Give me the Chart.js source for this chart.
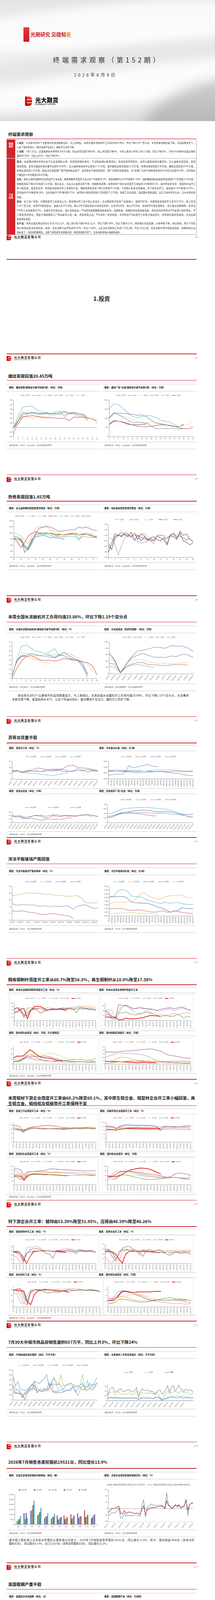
<!DOCTYPE html>
<html><head><meta charset="utf-8">
<script src="https://cdn.jsdelivr.net/npm/chart.js@4.4.0/dist/chart.umd.min.js"></script>
<style>
html,body{margin:0;padding:0;background:#fff;}
#root{position:relative;width:550px;height:4952px;overflow:hidden;background:#fff;font-family:"Noto Sans CJK SC","Noto Sans",sans-serif;color:#222;}
.a{position:absolute;}
.ttl{position:absolute;left:21px;font-size:10.6px;font-weight:700;color:#1b1b1b;white-space:nowrap;line-height:14px;}
.red{position:absolute;left:17px;width:486px;height:1.6px;background:#c8282e;}
.gl{position:absolute;height:1px;background:#d5c9c9;}
.cap{position:absolute;font-size:5.8px;font-weight:700;color:#222;white-space:nowrap;line-height:8px;}
.src{position:absolute;font-size:5.4px;font-style:italic;color:#666;white-space:nowrap;line-height:8px;}
.jl{position:absolute;color:#333;white-space:normal;overflow:visible;}
.pn{position:absolute;right:44px;font-size:5px;color:#777;line-height:7px;}
.sec{position:absolute;left:0;width:520px;text-align:center;font-size:14.5px;font-weight:700;color:#222;line-height:18px;}
</style></head>
<body><div id="root"></div>
<script>
// ---------------- tick labels / categories ----------------
const wk19 = [1,4,7,10,13,16,19,22,25,28,31,34,37,40,43,46,49,52,55];
const wk27ticks = [1,5,9,13,17,21,25,29,33,37,41,45,49,53];
const monthNum = ['01','02','03','04','05','06','07','08','09','10','11','12'];
const cement16 = ['1月4日','1月28日','2月21日','3月15日','4月10日','5月4日','5月28日','6月21日','7月15日','8月8日','9月1日','9月25日','10月19日','11月12日','12月6日','12月30日'];
const dates18 = ['1月1日','1月22日','2月12日','3月5日','3月26日','4月16日','5月7日','5月28日','6月18日','7月9日','7月30日','8月20日','9月10日','10月1日','10月22日','11月12日','12月3日','12月24日'];
const dates30 = ['1月3日','1月15日','1月27日','2月8日','2月20日','3月4日','3月16日','3月28日','4月9日','4月21日','5月3日','5月15日','5月27日','6月8日','6月20日','7月2日','7月14日','7月26日','8月7日','8月19日','8月31日','9月12日','9月24日','10月6日','10月18日','10月30日','11月11日','11月23日','12月5日','12月17日'];
const dates24 = ['1月1日','1月16日','1月31日','2月15日','3月2日','3月17日','4月1日','4月16日','5月1日','5月16日','5月31日','6月15日','6月30日','7月15日','7月30日','8月14日','8月29日','9月13日','9月28日','10月13日','10月28日','11月12日','11月27日','12月12日'];
const glass11 = ['1月3日','1月31日','3月1日','3月29日','4月26日','5月30日','6月27日','7月25日','8月29日','10月18日','11月29日'];
const dates26 = ['1月1日','1月15日','1月29日','2月12日','2月26日','3月12日','3月26日','4月9日','4月23日','5月7日','5月21日','6月4日','6月18日','7月2日','7月16日','7月30日','8月13日','8月27日','9月10日','9月24日','10月8日','10月22日','11月5日','11月19日','12月3日','12月17日'];
const house15 = ['2025-05','2025-06','2025-07','2025-08','2025-09','2025-10','2025-11','2025-12','2026-01','2026-02','2026-03','2026-04','2026-05','2026-06','2026-07'];
const excMonths = ['1月','2月','3月','4月','5月','6月','7月','8月','9月','10月','11月','12月'];
const yoy13 = ['2022-07','2022-11','2023-03','2023-07','2023-11','2024-03','2024-07','2024-11','2025-03','2025-07','2025-11','2026-03','2026-07'];
const eai15 = ['2022-09','2022-12','2023-03','2023-06','2023-09','2023-12','2024-03','2024-06','2024-09','2024-12','2025-03','2025-06','2025-09','2025-12','2026-03'];
const steel20 = ['1月2日','1月20日','2月7日','2月25日','3月15日','4月2日','4月20日','5月8日','5月26日','6月13日','7月1日','7月19日','8月6日','8月24日','9月11日','9月29日','10月17日','11月4日','11月22日','12月10日'];
const oil10 = ['1月2日','2月13日','3月27日','5月8日','6月10日','7月15日','8月22日','10月3日','11月14日','12月26日'];

// ---------------- series values ----------------
// p4 螺纹表需
const p4a_2025=[0,80,230,250,260,250,230,225,220,205,200,210,150,230,225,230,205,185,145];
const p4a_2024=[-150,150,280,300,320,300,290,310,300,310,300,340,300,300,280,270,200];
const p4a_2023=[0,200,350,320,320,300,300,290,270,270,290,280,300,300,250,240,220,220,80];
const p4a_2022=[0,150,320,310,330,320,310,320,300,300,330,360,320,330,310,290,150];
const p4a_2021=[0,250,450,460,470,390,340,330,310,340,360,240,310,320,310,290,240];
const p4a_2026=[0,130,240,260,200,240,220,200,190];
// p4 螺纹库存
const p4b_2025=[650,850,850,800,720,650,570,550,540,560,620,650,640,620,560,490,440,440,520];
const p4b_2024=[1000,1300,1200,1050,900,780,780,780,750,600,430,450,440,450,450,420,450];
const p4b_2023=[1000,1280,1200,1100,1050,950,850,750,720,800,780,730,700,620,570,560,620,680,900];
const p4b_2022=[1050,1310,1280,1280,1250,1220,1170,1200,1100,900,750,700,650,600,550,550,700];
const p4b_2021=[1500,1820,1750,1550,1300,1100,1050,1100,1150,1150,1050,900,850,800,650,550,650];
const p4b_2026=[700,880,850,780,680,650,650,670,690];
// p5 五大品种
const p5a_2020=[820,800,760,560,460,700,1000,1150,1200,1210,1200,1150,1080,1050,1080,1100,1100,1120,1200,1160,1200,1150,1100,1080];
const p5a_2021=[980,960,900,760,650,900,1150,1220,1180,1250,1100,1080,1000,950,950,980,1000,1020,950,980,980,990,950,880];
const p5a_2022=[880,850,800,520,420,750,980,1000,950,1000,1000,950,900,880,900,920,950,950,920,980,950,920,880,850];
const p5a_2023=[820,700,520,700,900,1000,1040,1000,1000,990,1000,980,950,950,940,960,980,980,960,950,950,930,900,860];
const p5a_2024=[840,800,720,500,460,650,920,950,960,950,940,900,880,880,870,880,890,880,820,880,880,860,850,840];
const p5a_2025=[900,870,820,600,500,780,950,980,960,1020,980,950,930,940,950,960,960,950,750,980,1000,960,880,860];
const p5a_2026=[820,800,780,360,540,800,880,900,920,900,850,860,840,830,790];
// p5 热卷
const p5b_2026=[310,308,290,248,282,310,318,312,305,298,292,295,300,305,287];
const p5b_2025=[290,270,310,320,330,320,322,315,320,320,315,305,310,298,305,320,322,318,290,322,330,315,318,310,305,310];
const p5b_2024=[300,265,300,320,338,325,320,318,330,320,325,328,318,300,290,320,318,320,315,320,318,322,316,310,300,315];
const p5b_2023=[258,290,325,320,318,325,315,332,302,320,300,315,305,308,300,318,310,305,285,320,325,310,328,300,295,285,295];
const p5b_2022=[280,270,315,322,315,330,325,315,330,305,325,320,300,312,315,305,300,310,310,318,315,305,335,320,325,305,298];
// p6 水泥
const p6a_2025=[0,22,38,48,50,46,40,40,40,38,40,44,42,40,40,36,35,28,8];
const p6a_2024=[5,40,50,50,55,52,50,48,47,46,53,50,45,42,38,25,3];
const p6a_2023=[10,35,55,55,52,50,50,52,50,52,52,55,55,50,45,38,32,16];
const p6a_2022=[5,38,48,50,55,52,50,52,52,45,50,58,50,45,40,30,8];
const p6a_2021=[5,40,70,74,67,60,58,55,58,66,50,50,45,40,40,33,10];
const p6a_2026=[5,38,50,48,45,42,38,35,34];
const p6b_2023=[650,420,40,300,500,580,640,580,520,520,510,560,540,610,600,510];
const p6b_2022=[650,400,30,300,530,720,740,780,830,830,800,880,870,870,820,700];
const p6b_2024=[500,380,40,280,420,450,430,380,340,330,320,320,330,340,350];
const p6b_2025=[340,300,40,230,300,350,350,290,280,270,250,280,290,290,270];
const p6b_2026=[240,200,30,200,270,290,270,230,200];
// p7 沥青
const p7a_2023=[24,28,23,30,32,38,36,32,34,34,35,45,48,40,38,37,33,30];
const p7a_2024=[28,30,22,28,28,28,26,28,30,32,27,26,28,29,30,33,30,28];
const p7a_2025=[25,28,25,25,28,27,27,33,28,30,33,28,26,36,30,25,29,27];
const p7a_2026=[30,29,24,21,20,18,16,14,12,15,19,22];
const p7b_2023=[3950,3980,4000,4050,4000,4000,3900,3950,4000,3950,3900,3900,3850,3850,3900,3950,4000,4050,4050,4050,4050,4050,4050,4000,4000,3800,3750,3700,3750,3800];
const p7b_2024=[3800,3820,3850,3850,3850,3850,3850,3850,3800,3800,3800,3850,3850,3850,3800,3750,3750,3780,3780,3780,3750,3750,3800,3800,3850,3850,3850,3850,3850,3850];
const p7b_2025=[3900,3900,3850,3850,3800,3800,3750,3700,3650,3550,3550,3600,3600,3650,3700,3700,3750,3750,3750,3700,3650,3550,3500,3450,3450,3300,3200,3150,3100,3080];
const p7b_2026=[3150,3200,3250,3280,3300,3300,3900,4800,4500,4450,4600,4750,4800,4950,4900,4700,4650,4600];
const p7c_2024=[40,38,40,35,22,33,42,42,35,27,30,40,37,35,40,38,37,35,42,40,46,45,40,37];
const p7c_2025=[40,32,35,22,34,35,41,38,44,35,42,44,45,40,41,42,42,40,40,48,45,37,40,35];
const p7c_2026=[40,32,35,28,24,23,23,18,13,20,19,19,20,18,22,29,27];
const p7d_2023=[110,120,150,185,215,228,240,262,272,276,272,268,255,240,238,240,238,232,215,200,185,180,175,190];
const p7d_2024=[190,205,235,270,300,315,320,325,332,335,332,330,325,318,308,300,290,270,245,215,180,150,120,110];
const p7d_2025=[135,145,170,200,220,225,228,228,225,220,215,210,205,205,205,205,200,190,180,175,165,150,135,130];
const p7d_2026=[135,145,168,190,200,200,206,202,198,190,175,162,152,145];
// p8 玻璃
const p8a_2023=[];
const p8a_2024=[83.3,83.7,84.2,84.8,85.3,85.0,85.0,84.8,84.3,84.3,83.8,83.6,83.3,82.9,82.8,83.0,83.2,81.5,78.3,77.8,77.8,78.3];
const p8a_2025=[77.4,76.2,76.4,76.6,76.2,76.4,75.8,75.4,75.8,75.0,75.6,75.4,75.2,75.6,75.2,73.0,75.5,76.0,76.5,75.0,73.8,74.0];
const p8a_2026=[72.0,71.5,71.9,71.8,70.9,70.8,70.2,69.4,69.3,69.7,70.0,69.5,69.0,68.4,68.3,66.2];
const p8b_2022=[2080,2060,2150,2350,2440,2420,2380,2200,2060,2050,2050,2030,1960,1880,1820,1780,1750,1700,1670,1750,1720,1700,1700,1730,1720,1680,1650,1630,1620,1630];
const p8b_2023=[1670,1710,1750,1760,1750,1740,1750,1780,1820,1900,2050,2250,2270,2150,2050,2000,1950,1910,1940,2000,2080,2090,2110,2120,2140,2120,2060,1980,2010,2020];
const p8b_2024=[2030,2035,2040,2050,2055,2060,1990,1850,1740,1720,1710,1700,1690,1690,1650,1600,1530,1470,1440,1380,1300,1200,1250,1270,1300,1450,1420,1410,1400,1400];
const p8b_2025=[1380,1390,1400,1410,1410,1380,1350,1310,1310,1320,1330,1320,1290,1250,1220,1210,1210,1230,1280,1260,1200,1210,1240,1280,1220,1210,1170,1160,1150,1130];
const p8b_2026=[1120,1130,1140,1150,1160,1165,1170,1180,1180,1165,1150,1150,1140,1125,1115,1110,1105,1100];
// p9 铜
const p9a_2022=[65,75,55,35,30,62,68,62,42,52,60,65,68,62,70,65,65,68,62,72,75,70,72,65,68,60];
const p9a_2023=[70,72,48,25,50,62,65,68,70,65,75,70,72,68,70,76,70,72,75,80,85,75,70,72,68,62];
const p9a_2024=[62,75,72,30,40,58,62,72,70,60,55,62,58,62,70,68,72,75,70,62,70,80,82,78,80,70];
const p9a_2025=[62,75,60,15,72,72,70,70,70,65,62,62,65,66,68,70,68,68,70,45,68,65,68,62,62,60];
const p9a_2026=[48,50,66,68,12,55,78,82,80,72,60,62,65,64,66,62,58];
const p9b_2022=[38,28,5,15,65,60,62,55,50,48,52,50,47,45,45,40,45,48,50,52,48,50,55,50,45,42];
const p9b_2023=[40,35,18,8,30,55,62,55,45,50,52,48,50,48,45,40,38,42,45,48,40,45,48,52,45,40];
const p9b_2024=[38,45,40,10,45,55,60,50,40,30,25,30,40,35,28,22,25,20,18,22,30,25,28,30,32,28];
const p9b_2025=[22,25,18,5,32,30,35,28,25,22,28,30,35,30,28,22,15,20,22,15,18,25,20,10,18,13];
const p9b_2026=[15,14,14,14,3,4,10,7,7,8,10,12,16,20,20,19,18];
const p9c_2021=[12,10,12,20,28,30,30,30,32,33,32,30,25,22,18,15,12,12,10,10,9,10,9,8,9,8];
const p9c_2022=[20,15,18,20,22,23,18,15,14,14,12,12,10,10,9,8,8,8,7,9,10,9,8,7,8,8];
const p9c_2023=[10,10,15,25,30,28,22,20,18,16,15,12,12,10,9,8,8,9,10,10,10,9,9,8,7,9];
const p9c_2024=[8,8,12,20,30,38,40,40,40,40,42,45,42,38,35,30,25,18,15,20,20,18,15,14,12,10];
const p9c_2025=[10,11,14,22,35,38,35,28,20,15,13,12,12,12,14,14,15,17,18,20,19,17,16,16,17,23];
const p9c_2026=[25,32,32,33,45,58,50,38,30,26,25,24,20,16,14,12];
const p9d_2021=[35,35,35,34,36,37,38,38,39,40,41,42,43,44,43,40,38,34,28,25,24,22,20,18,17,18];
const p9d_2022=[19,23,26,30,32,33,30,30,30,29,28,27,24,20,15,10,6,5,4,4,3,3,3,3,3,5];
const p9d_2023=[3,3,5,15,18,20,19,17,14,12,10,9,8,8,7,7,6,6,5,5,5,4,3,2,2,2];
const p9d_2024=[2,3,5,6,6,6,7,8,8,9,9,10,10,10,10,10,9,8,7,6,5,5,5,4,4,3];
const p9d_2025=[3,3,4,5,6,7,8,9,9,8,8,8,8,7,7,7,7,7,8,8,8,8,8,8,8,8];
const p9d_2026=[8,8,8,7,7,6,6,5,5,4,4,5,5,4,4,4];
// p10 铝
const p10a_2021=[77,76,72,48,62,68,70,72,74,75,77,76,75,73,70,68,67,65,66,66,65,65,66,64,63,62];
const p10a_2022=[68,66,60,42,58,66,68,68,66,58,60,63,64,65,63,64,64,65,66,66,66,67,68,68,68,68];
const p10a_2023=[62,60,58,52,58,62,63,64,63,63,62,62,61,61,62,62,63,63,63,63,64,64,65,65,65,64];
const p10a_2024=[60,62,58,55,58,61,62,63,63,63,63,63,62,62,62,62,62,62,62,63,62,62,63,62,62,60];
const p10a_2025=[60,58,52,50,56,60,62,62,62,62,62,61,61,60,60,60,59,60,61,62,61,61,62,62,61,60];
const p10a_2026=[61,60,58,56,58,62,63,63,63,63,63,62,62,62,61,60,60];
const p10b_2021=[82,82,80,70,78,85,86,86,85,85,85,85,84,84,84,78,60,80,80,80,78,80,80,82,84,84];
const p10b_2022=[80,80,78,68,82,88,90,90,89,88,88,88,86,86,82,80,80,82,82,80,80,80,80,80,80,80];
const p10b_2023=[75,76,74,72,75,76,76,77,77,77,76,76,76,75,75,74,74,75,75,76,76,76,76,76,75,72];
const p10b_2024=[72,72,70,68,70,72,73,74,74,74,74,74,74,74,73,72,72,73,74,75,74,74,74,74,72,68];
const p10b_2025=[66,66,64,62,66,68,68,68,67,66,66,65,65,65,64,64,64,66,67,68,68,67,66,66,65,63];
const p10b_2026=[65,64,63,62,66,68,70,71,71,71,71,70,70,70,70,70,69];
const p10c_2021=[88,86,82,50,70,72,72,74,75,76,80,87,86,85,83,82,82,80,79,78,78,76,75,75,76,75];
const p10c_2022=[75,70,60,38,62,70,72,72,73,72,70,68,68,68,68,68,67,66,66,66,66,65,64,63,62,61];
const p10c_2023=[55,58,55,35,55,60,62,64,64,64,66,66,66,66,65,64,63,62,60,58,57,56,56,55,54,53];
const p10c_2024=[52,55,50,30,48,58,60,60,60,60,58,56,56,55,54,52,52,51,50,50,51,52,52,50,49,47];
const p10c_2025=[45,40,28,35,50,55,56,56,55,55,55,55,54,53,52,50,50,50,50,51,52,53,53,52,52,52];
const p10c_2026=[48,48,45,24,45,55,58,57,56,55,55,55,54,53,52,50,49];
const p10d_2021=[78,76,80,100,115,118,120,118,112,108,104,100,96,92,88,84,80,70,65,70,90,100,102,98,90,80];
const p10d_2022=[75,72,85,100,110,115,120,115,110,100,95,90,85,80,75,72,70,65,62,64,65,60,55,50,48,45];
const p10d_2023=[60,80,110,120,118,115,110,105,98,90,85,80,75,70,65,62,60,58,58,60,62,60,58,55,50,45];
const p10d_2024=[50,48,45,60,78,85,88,85,82,80,78,75,72,70,68,66,62,60,60,62,64,62,58,52,48,45];
const p10d_2025=[50,48,48,65,85,85,82,75,68,62,55,50,46,45,47,50,52,55,58,62,65,62,60,58,58,66];
const p10d_2026=[65,68,70,75,85,100,118,130,136,142,145,143,140,132,120,105,95];
// p11 锌
const p11a_2022=[55,50,40,10,45,65,70,70,68,58,48,45,25,60,60,60,62,65,62,55,62,60,58,60,58,52];
const p11a_2023=[40,30,10,2,75,78,78,80,75,65,60,62,55,60,65,68,70,70,68,62,68,62,60,62,60,52];
const p11a_2024=[60,58,50,20,3,30,60,60,60,62,60,60,58,62,62,60,62,60,58,60,62,65,60,62,62,55];
const p11a_2025=[55,60,55,15,50,55,58,58,60,62,60,60,55,58,58,58,56,55,56,48,58,58,56,58,58,52];
const p11a_2026=[55,55,50,30,2,30,55,58,60,60,60,60,58,57,55,54,52];
const p11b_2022=[45,60,30,10,40,65,70,72,62,55,45,30,55,60,50,55,58,48,40,35,45,48,42,48,45,38];
const p11b_2023=[30,8,5,20,50,60,62,58,58,50,35,60,55,52,50,45,48,44,50,46,44,48,45,44,46,48];
const p11b_2024=[55,60,50,25,10,50,55,58,55,52,55,55,55,52,54,56,55,54,55,56,54,56,54,55,56,56];
const p11b_2025=[62,55,45,20,50,55,58,58,55,52,55,56,55,50,50,48,48,48,50,48,50,50,50,52,50,52];
const p11b_2026=[52,50,50,40,20,2,40,52,52,52,50,52,50,50,48,47,46];
const p11c_2022=[58,62,65,45,10,52,58,60,58,52,48,50,52,50,55,58,60,58,56,60,58,58,60,58,56,52];
const p11c_2023=[48,45,15,10,40,60,62,60,60,62,60,58,60,62,60,62,62,63,62,62,60,58,60,60,58,55];
const p11c_2024=[58,58,40,15,5,50,58,60,60,58,58,57,57,56,56,55,55,57,58,58,58,58,58,58,57,55];
const p11c_2025=[55,60,60,30,20,55,58,58,58,58,60,60,58,57,56,56,55,56,58,58,58,57,57,56,56,52];
const p11c_2026=[58,57,56,55,20,8,42,55,58,60,60,58,56,55,55,54,50];
const p11d_2021=[15,14,15,20,27,28,27,25,22,20,18,15,13,12,12,12,12,12,12,12,12,12,12,12,12,11];
const p11d_2022=[12,12,18,26,28,28,27,26,25,23,20,18,15,12,10,9,8,8,7,6,6,6,6,5,5,6];
const p11d_2023=[12,12,14,16,18,18,16,14,12,11,10,10,10,11,12,12,12,12,12,12,12,11,10,9,8,7];
const p11d_2024=[6,7,12,17,19,20,21,21,21,21,21,20,18,16,14,12,11,10,10,12,13,14,12,10,8,7];
const p11d_2025=[6,6,8,12,14,13,12,11,10,9,8,8,9,10,11,12,14,15,16,16,15,14,14,13,12,11];
const p11d_2026=[11,11,12,18,25,27,26,25,25,26,26,26,26,26,27,27,27];
// p12 地产
const p12a_2022=[170,190,200,140,100,110,130,170,200,230,250,200,240,230,200,190,300,450,380,300,500,290,300,290,350,280,260,290,300,510,180,250,300,250,280,330];
const p12a_2023=[470,280,370,220,200,190,210,250,300,370,350,330,390,420,510,290,310,320,300,330,280,210,300,320,330,310,280,270,300,330,250,270,330,300,310,340];
const p12a_2024=[290,230,210,170,60,130,150,230,210,380,140,190,180,200,230,240,360,430,330,190,200,180,170,200,180,280,200,90,200,300,240,390,230,290,350,450];
const p12a_2025=[130,150,140,120,40,150,180,260,320,210,180,200,180,220,200,340,200,150,180,160,140,160,200,190,220,260,150,230,270,200,220,190,230,200,250,340];
const p12a_2026=[280,130,130,140,120,10,160,200,230,300,150,190,170,180,180,230,340,160,140,150];
const p12b_sz=[7,13,12,10,12,11,10,10,11,9,10,10,11,10,11,11,10,5,10,11,12,11,11,10,11,7,12,13,14,8,1,6,8,10,12,13,14,12,11,13,13,12,10,12,12,11,10,9];
const p12b_bj=[20,35,36,38,24,33,40,28,27,28,25,29,32,26,25,33,41,12,32,35,30,32,32,30,35,28,32,35,26,13,2,20,30,38,45,30,35,40,38,30,38,40,30,34,38,28,26,31];
const p12b_cd=[20,45,53,56,37,36,47,51,42,36,42,45,47,36,38,44,55,12,40,50,42,43,45,39,40,38,25,35,45,43,27,35,45,63,30,55,65,40,48,66,50,46,38,49,44,44,45,34];
const p12b_su=[10,14,13,12,14,13,12,11,12,11,12,11,12,11,12,12,11,4,11,12,11,12,12,11,11,8,13,14,15,10,1,7,10,13,16,20,15,17,20,19,16,18,17,15,16,14,14,14];
// p13 挖掘机
const p13a_2022=[null,null,null,null,null,null,9200,9000,10500,11300,14300,6100];
const p13a_2023=[3400,11400,13800,9400,6500,5900,5000,5400,6000,6700,7400,7600];
const p13a_2024=[5300,5600,15100,10600,8300,7500,6000,6600,7600,8300,8500,9400];
const p13a_2025=[5400,11600,19500,12500,8300,8100,7200,7600,9200,8400,9800,10300];
const p13a_2026=[8700,6600,24000,16900,11500,10900,7608];
const p13b_total=[-25,-12,2,0,5,8,15,-30,-32,-12,-30,-25,-20,-25,-28,-30,-28,-30,-35,-5,18,-40,-5,-2,5,5,8,10,12,15,17,15,0,50,20,18,0,12,25,15,25,5,12,20,50,-10,25,35,35];
const p13b_dom=[-45,-35,-25,-27,-25,-10,0,-60,-60,-30,-48,-40,-45,-45,-45,-40,-40,-42,-48,20,55,-50,10,15,30,25,22,20,22,22,22,18,0,100,25,15,-2,10,20,12,20,5,10,15,60,-42,25,35,38];
// p14 美国
const p14a_eai=[3.0,2.7,2.8,2.4,1.9,1.4,1.8,1.2,1.1,1.2,1.0,1.1,1.0,1.6,1.1,0.9,1.1,1.0,1.2,1.1,1.4,1.5,2.0,2.2,2.5,2.3,2.1,2.3,2.5,2.7,1.7,2.3,2.0,2.1,2.3,2.6,2.0,2.5,2.8,2.5,2.1,3.4,2.2,2.8,2.4,2.8,3.1,2.3,2.7,2.8,2.6,2.5,2.2,2.5,2.8,3.0,2.7,3.3,3.0,2.8];
const p14b_2022=[4.6,4.8,5.0,5.5,5.3,5.3,6.4,5.3,4.8,4.7,4.7,4.5,4.4,4.4,4.3,4.3,4.2,3.9,3.7,3.5,3.0,3.1,3.2,2.8,3.0,3.0,3.1,2.9,2.5,2.3,2.0,2.0,2.1,2.0,1.9,1.9,1.5,0.8,1.8,2.0];
const p14b_2023=[0.9,1.0,0.9,1.0,1.1,1.1,1.0,1.0,1.1,0.8,0.9,1.0,1.2,1.0,1.0,1.1,0.9,1.0,0.9,0.9,1.0,1.0,1.1,1.2,1.0,1.2,1.1,1.3,1.5,1.5,1.9,1.8,2.0,2.0,2.0,2.1,2.0,2.2,2.3,2.2];
const p14b_2024=[2.0,1.7,1.4,1.5,1.9,1.4,1.6,1.5,1.6,2.0,1.6,1.7,1.7,1.7,1.6,1.5,1.7,1.7,1.8,2.2,1.9,2.0,2.2,2.1,1.9,2.2,2.1,2.1,2.3,2.0,2.0,2.2,2.0,1.9,2.0,2.0,3.2,1.8,2.7,2.4];
const p14b_2025=[2.1,2.5,2.5,2.4,2.5,2.4,2.3,2.5,2.6,3.0,2.5,2.5,2.3,2.1,2.0,2.1,1.9,2.0,2.1,2.3,2.6,2.3,2.2,2.2,2.3,2.3,2.2,2.1,2.3,2.4,2.4,2.2,2.0,2.1,2.2,2.2,2.2,2.1,2.2,2.0];
const p14b_2026=[2.2,2.5,2.4,2.8,2.6,2.5,2.7,2.8,2.8,2.9,3.0,2.7,2.9,2.6,2.8,3.0,3.1,3.2,3.0,2.6,2.5,3.1,2.7,2.9,2.6,2.5,2.6,2.3,2.2,2.0,2.0,2.1,1.9,2.0,2.0,2.1,2.0,2.2,2.7,2.6];
// p15 美国油品
const p15a_2021=[1580,1750,1800,1850,1700,1820,1780,1800,1850,1850,1820,1700,1640,1800,1850,1870,1830,1850,1900,1920,1880,1950,1900,1920,1880,1900,1950,1970,1900,1850,1800,1750,1600,1700,1780,1820,1800,1850,1880,1900,1900,1920,1950,1880,1850,1800];
const p15a_2022=[1850,1850,1820,1900,1850,1860,1820,1850,1880,1820,1850,1800,1870,1900,1950,1930,1880,1900,1920,1890,1900,1880,1850,1820,1860,1900,1950,1920,1850,1800,1750,1800,1850,1800,1820,1830,1850,1880,1900,1860,1850,1870,1900,1850,1820,1760];
const p15a_2023=[1900,1880,1920,1950,1930,1600,1800,1850,1900,1950,1970,1950,2000,2050,2030,1990,2000,2020,2050,2080,2050,2000,1980,2000,2050,2080,2060,2000,2050,2000,1950,1980,2030,2050,2000,1950,2000,2050,2120,2050,2000,2080,2060,1980,1950,1900];
const p15a_2024=[2000,1950,1980,1900,1850,1880,1800,1850,1900,1880,1650,1800,1850,1880,1900,1920,1950,2000,1980,2050,2100,2120,2050,2030,1980,2000,2100,2080,2000,1990,1950,1900,1850,1900,1950,1980,2000,1950,1900,1980,2050,2100,2000,1950,1900,1850];
const p15a_2025=[1900,1850,1800,1750,1780,1800,1820,1800,1750,1720,1700,1730,1750,1780,1760,1700,1720,1750,1780,1800,1820,1800,1780,1750,1720,1700,1680,1650,1700,1720,1750,1780,1800,1780,1750,1720,1700,1750,1800,1820,1880,1850,1800,1850,1870,1760];
const p15a_2026=[2060,2030,2000,1985,1975,2130,1850,1950,1950,1920,1900,1920,1900,1910,2000,1930,1900,1960,2000,1950,2100,2060,2030,1990,1950,2020,2050,1980];
const p15b_2021=[470,480,500,470,490,510,480,500,510,470,490,500,520,510,490,500,530,500,480,520,510,470,500,520,540,500,480,510,530,500,470,480,510,530,500,490,470,500,520,480,500,510,470,530,510,460];
const p15b_2022=[500,520,490,480,520,540,500,480,470,500,520,490,510,480,470,500,520,540,510,490,500,520,500,510,540,520,500,490,530,550,520,480,500,520,540,500,520,540,520,480,540,560,520,500,480,400];
const p15b_2023=[490,470,480,500,470,480,500,470,490,510,500,480,470,500,510,480,490,500,480,500,520,530,500,480,500,520,510,480,520,540,510,490,470,510,520,480,500,520,490,470,510,520,490,510,520,440];
const p15b_2024=[460,470,490,480,500,510,490,480,500,520,500,490,470,480,500,520,500,480,510,490,480,500,520,500,490,510,530,520,540,510,490,500,510,520,480,500,520,510,490,500,540,560,540,500,510,480];
const p15b_2025=[480,500,470,490,510,500,490,510,500,480,470,500,510,490,480,500,510,490,480,500,510,520,490,480,500,510,520,500,480,510,520,500,490,500,480,470,510,500,490,480,500,520,510,500,530,470];
const p15b_2026=[465,550,480,510,580,540,570,520,490,470,510,480,560,560,470,540,550,570,520,510,500,550,520,600,460,530,530,580];
const p15c_2021=[880,850,870,900,910,920,930,900,950,960,970,940,960,980,990,970,1000,1010,990,980,1000,1020,1000,980,1000,1010,990,1000,980,970,960,990,1000,980,960,980,1000,990,970,980,990,1000,980,960,1010,880];
const p15c_2022=[860,880,900,890,920,900,940,950,930,960,940,950,980,970,960,980,990,1000,980,1020,1000,990,1010,1030,1000,980,1000,1050,1000,990,980,1000,1000,980,970,1000,990,1010,980,990,970,1000,990,980,1020,860];
const p15c_2023=[900,910,930,920,940,950,930,960,940,970,960,980,990,970,1000,990,1010,1000,990,1020,1030,1010,1090,1000,1020,1000,990,1010,1000,960,990,1000,970,950,1000,1010,990,980,1000,990,960,980,1000,990,1030,900];
const p15c_2024=[850,870,880,900,910,930,920,940,960,950,970,960,950,990,980,1000,990,1010,1000,1020,1010,1030,1000,990,1010,1020,1000,1010,1000,980,1000,1010,990,1000,980,1000,1010,990,980,1000,1010,990,980,1000,1000,870];
const p15c_2025=[890,900,890,910,930,920,940,950,960,950,940,970,980,960,990,1000,980,990,1000,1010,990,1000,1020,1000,1000,990,1010,1030,1000,980,960,990,1010,1000,980,970,990,1000,1010,990,980,990,1000,1010,1020,860];
const p15c_2026=[910,900,880,950,910,930,960,950,930,1000,970,980,950,940,990,970,960,970,1010,960,990,1020,970,1010,990,980,970,985];
const p15d_2021=[null,null,null,null,null,null,null,null,null,null,null,null,null,null,1100,1200,1350,1250,1050,1000,1200,1450,1500,1400,1550,1600,1450,1500,1600,1550,1500,1600,1550,1450,1500,1550,1600,1500,1450,1550,1600,1500,1550,1500,1450,1500];
const p15d_2022=[1500,1450,1400,1500,1550,1450,1500,1600,1550,1500,1650,1600,1550,1500,1600,1650,1700,1600,1550,1650,1700,1600,1650,1700,1750,1600,1500,1650,1700,1600,1550,1500,1600,1650,1500,1450,1600,1700,1600,1500,1550,1650,1600,1500,1700,1500];
const p15d_2023=[1600,1550,1500,1550,1600,1650,1550,1500,1600,1650,1600,1700,1650,1550,1650,1700,1750,1650,1700,1800,1750,1700,1650,1750,1800,1700,1650,1800,1750,1650,1700,1750,1700,1600,1650,1800,1700,1650,1600,1750,1700,1650,1700,1800,1600,1550];
const p15d_2024=[1550,1500,1600,1650,1500,1550,1650,1700,1600,1550,1650,1700,1750,1650,1700,1800,1700,1650,1750,1800,1850,1750,1700,1800,1750,1700,1650,1750,1800,1700,1650,1700,1850,1750,1700,1650,1750,1700,1650,1600,1700,1750,1650,1700,1850,1500];
const p15d_2025=[1650,1600,1550,1600,1650,1700,1600,1550,1650,1700,1650,1600,1700,1750,1650,1600,1700,1750,1800,1700,1650,1750,1800,1750,1700,1800,1850,1750,1700,1650,1750,1800,1700,1650,1700,1750,1650,1600,1700,1750,1700,1650,1750,1700,1600,1450];
const p15d_2026=[1750,1860,1650,1350,1650,1500,1600,1750,1750,1350,1700,1600,1800,1850,1600,1700,1550,1700,1680,1700,2080,1700,1650,2000,1800,2150,1900,1700];

// ---------------- layout helpers ----------------
const root=document.getElementById('root');
const PH=4952/16;
const PT=p=>(p-1)*PH;
const add=h=>root.insertAdjacentHTML('beforeend',h);
const TF='"Liberation Sans","Noto Sans CJK SC",sans-serif';
function title(p,off,text){add(`<div class="ttl" style="top:${PT(p)+off-7}px">${text}</div>`);}
function redLine(y){add(`<div class="red" style="top:${y-0.8}px"></div>`);}
function gline(y,x1,x2){add(`<div class="gl" style="top:${y}px;left:${x1}px;width:${x2-x1}px"></div>`);}
function cap(x,y,t){add(`<div class="cap" style="left:${x}px;top:${y-4}px">${t}</div>`);}
function src(x,y,t){add(`<div class="src" style="left:${x}px;top:${y-4}px">${t}</div>`);}
function jline(x,yc,w,fs,html,last){add(`<div class="jl" style="left:${x}px;top:${yc-fs*0.75}px;width:${w}px;font-size:${fs}px;line-height:${fs*1.5}px;text-align:${last?'left':'justify'};text-align-last:${last?'left':'justify'}">${html}</div>`);}
function logoIcon(x,y,w,h){
  return `<div class="a" style="left:${x}px;top:${y}px;width:${w}px;height:${h}px;background:linear-gradient(160deg,#f7663d,#e3141f 55%,#b80c16);border-radius:0 ${w*0.45}px ${w*0.45}px 0;"></div>`+
  `<div class="a" style="left:${x+w*0.3}px;top:${y+h*0.3}px;width:${w*0.7}px;height:${h*0.07}px;background:#fff;opacity:.85"></div>`+
  `<div class="a" style="left:${x+w*0.3}px;top:${y+h*0.62}px;width:${w*0.7}px;height:${h*0.07}px;background:#fff;opacity:.85"></div>`+
  `<div class="a" style="left:${x}px;top:${y}px;width:${w*0.28}px;height:${h}px;background:#c40f1a"></div>`;
}
function footer(p,withRed){
  const t=PT(p);
  if(withRed) redLine(t+287);
  add(logoIcon(17,t+292,12,13));
  add(`<div class="a" style="left:36px;top:${t+292}px;font-size:7.4px;font-weight:700;letter-spacing:1.25px;color:#222;line-height:8px;white-space:nowrap">光大期货有限公司</div>`);
  add(`<div class="a" style="left:36px;top:${t+300.5}px;font-size:2.6px;font-weight:700;letter-spacing:.35px;color:#444;line-height:3px;white-space:nowrap">EVERBRIGHT FUTURES CO., LTD.</div>`);
  add(`<div class="pn" style="top:${t+292.5}px">p ${p}</div>`);
}

// ---------------- chart factory ----------------
function chart(o){
  const wrap=document.createElement('div');
  wrap.style.cssText=`position:absolute;left:${o.x}px;top:${o.y}px;width:${o.w}px;height:${o.h}px;`+(o.box?'border:1px solid #e3e3e3;box-sizing:border-box;':'');
  root.appendChild(wrap);
  const cv=document.createElement('canvas');wrap.appendChild(cv);
  const isBar=o.type==='bar';
  const every=o.every||1, tk=o.ticks;
  const ds=o.series.map(s=>isBar?{label:s[0],data:s[1],backgroundColor:s[2],borderWidth:0,categoryPercentage:0.78,barPercentage:0.95}
    :{label:s[0],data:s[1],borderColor:s[2],backgroundColor:s[2],borderWidth:s[3]||0.9,pointRadius:0,pointHoverRadius:0,tension:0,spanGaps:false});
  const ac='#a0a0a0';
  const tf={size:o.tf||4.3,family:TF};
  const lf={size:o.lf||4.5,family:TF};
  new Chart(cv,{type:isBar?'bar':'line',data:{labels:Array.from({length:o.n},(_,i)=>i),datasets:ds},options:{
    responsive:true,maintainAspectRatio:false,animation:false,devicePixelRatio:2,events:[],
    layout:{padding:{left:o.pl??2,right:o.pr??6,top:o.pt??2,bottom:0}},
    plugins:{tooltip:{enabled:false},legend:{display:o.legend!==false,position:'top',
      labels:isBar?{font:lf,color:'#555',boxWidth:3.5,boxHeight:3.5,padding:o.lp||12}
        :{font:lf,color:'#555',usePointStyle:true,pointStyle:'line',pointStyleWidth:o.lw||11,boxHeight:3,padding:o.lp||5}}},
    scales:{
      x:{offset:isBar,grid:{display:true,drawOnChartArea:false,drawTicks:true,tickLength:2,color:ac},border:{color:ac,display:!o.zero},
        ticks:{autoSkip:false,maxRotation:o.rot||0,minRotation:o.rot||0,font:tf,color:'#666',padding:1,
          callback:(v,i)=>i%every===0?(tk[i/every]??''):''}},
      y:{min:o.ymin,max:o.ymax,grid:{display:true,drawOnChartArea:!!o.zero,drawTicks:true,tickLength:2,
          color:c=>o.zero?((c.tick&&c.tick.value===0)?ac:'rgba(0,0,0,0)'):ac,tickColor:ac},border:{color:ac},
        ticks:{stepSize:o.ystep,font:tf,color:'#666',padding:1,callback:o.yfmt||(v=>String(v))}}
    }}});
}

// ---------------- colours ----------------
const cDR='#C0202A',cBG='#5B82A8',cYG='#B5C96A',cPU='#6B5B95',cTE='#4BACC6',cOR='#F5A33A';
const xB='#4F81BD',xR='#C0504D',xG='#9BBB59',xP='#8064A2',xT='#4BACC6',xO='#F79646';
const yDM='#8B3A62',yLP='#A588CF',yOR='#E8884A',yYE='#F2C94C',yGR='#3E8E3E',yRD='#E31A1C';
const gA='#A6A6A6',gB='#C8C8C8',gC='#B4B4B4',gD='#D2D2D2',gE='#BEBEBE',gRed='#8B2332';

// ================= PAGE 1 : cover =================
add(`<div class="a" style="left:0;top:0;width:550px;height:310px;overflow:hidden;background:linear-gradient(180deg,#e4e4e4 0%,#f4f4f4 30%,#ededed 55%,#f6f6f6 78%,#dcdcdc 100%)">
<div class="a" style="left:-120px;top:10px;width:820px;height:110px;border-radius:50%;background:rgba(255,255,255,.75);filter:blur(10px);transform:rotate(-5deg)"></div>
<div class="a" style="left:-60px;top:120px;width:720px;height:70px;border-radius:50%;background:rgba(225,225,225,.6);filter:blur(12px);transform:rotate(-7deg)"></div>
<div class="a" style="left:-80px;top:175px;width:760px;height:90px;border-radius:50%;background:rgba(255,255,255,.8);filter:blur(12px);transform:rotate(-8deg)"></div>
<div class="a" style="left:360px;top:215px;width:330px;height:140px;border-radius:50%;background:rgba(140,140,140,.45);filter:blur(16px);transform:rotate(-18deg)"></div>
</div>`);
add(`<div class="a" style="left:60px;top:70px;width:15px;height:37px;background:linear-gradient(180deg,#ea3a32,#c81d25)"></div>`);
add(`<div class="a" style="left:78px;top:80px;font-size:12.6px;font-weight:700;color:#c8202a;line-height:16px;white-space:nowrap">光期研究 见微知<span style="color:#e0962c">著</span></div>`);
add(`<div class="a" style="left:0;top:142px;width:550px;text-align:center;font-size:17px;letter-spacing:6.2px;color:#333;line-height:22px;white-space:nowrap">终端需求观察（第152期）</div>`);
add(`<div class="a" style="left:0;top:184px;width:488px;text-align:center;font-size:11px;letter-spacing:4.5px;color:#333;line-height:14px;white-space:nowrap">2026年8月9日</div>`);
add(logoIcon(64,247,18,24));
add(`<div class="a" style="left:90px;top:248px;font-size:14.5px;font-weight:900;color:#111;line-height:16px;letter-spacing:.3px;white-space:nowrap">光大期货</div>`);
add(`<div class="a" style="left:90px;top:265px;font-size:4.3px;font-weight:700;color:#333;line-height:5px;letter-spacing:.25px;white-space:nowrap">EVERBRIGHT FUTURES</div>`);

// ================= PAGE 2 : summary =================
{
  const t=PT(2);
  title(2,34,'终端需求观察');
  add(`<div class="ttl" style="display:none"></div>`);
  redLine(t+45);
  add(`<div class="a" style="left:17px;top:357px;width:486px;height:244px;border:1px solid #9d9d9d;box-sizing:border-box"></div>`);
  add(`<div class="a" style="left:17px;top:357px;width:22px;height:244px;background:#d3252d"></div>`);
  add(`<div class="a" style="left:17px;top:405px;width:22px;height:1px;background:#fff"></div>`);
  add(`<div class="a" style="left:39px;top:405px;width:464px;height:1px;background:#a8a8a8"></div>`);
  add(`<div class="a" style="left:17px;top:365px;width:22px;text-align:center;font-size:5.4px;font-weight:700;color:#fff;line-height:7px">数据<br>观察</div>`);
  add(`<div class="a" style="left:17px;top:496px;width:22px;text-align:center;font-size:5.4px;font-weight:700;color:#fff;line-height:7px">下游<br>反馈</div>`);
  const X=43,W=457,F=5.6;
  const r1=[
    ['<b>1.投资：</b>卓创资讯对62个主要城市的监测数据显示，与上周相比，本周全国水泥磨机开工负荷均值33.86%，环比下降1.19个百分点。水泥需求多数还是下降，高温和雨水天气，',0],
    ['以及个别省份涨价，都对需求产生压力，磨机开工同步下降。',1],
    ['<b>2.消费：</b>7月1-31日，全国乘用车市场零售150.6万辆，同比去年同期下降18%，较上月同期下降6%，今年以来累计零售1,020.7万辆，同比下降20%。7月30大中城市商品房销售',0],
    ['面积657万平，同比上升3%，环比下降24%。',1]];
  const y1=[365.7,376.9,388.2,399.4];
  r1.forEach((l,i)=>jline(X,y1[i],W,F,l[0],l[1]));
  const r2=[
    ['<b>黑色：</b>当前国内钢材市场仍处于高温多雨的淡季，终端需求维持低位，不过随着钢价跌至低位，投机需求有所回升。本周全国建材成交量回升，五大品种表需回落，库存',0],
    ['继续增加。本周全国建材成交量环比回升10.68%，五大品种总库存环比增加17.37万吨，其中螺纹总库存增加11.32万吨，热卷总库存增加1.96万吨，螺纹表需回落20.45万吨，',0],
    ['热卷表需回落1.45万吨。随着河北地区钢厂限产结束恢复生产，本周铁水产量有所回升，钢厂对原料需求增加，247家钢厂高炉产能利用率回升0.93百分点至89.38%，日均铁水',0],
    ['产量回升2.48万吨至238.03万吨。',1],
    ['<b>有色：</b>本周从铜杆本制杆企业周度开工率来看，精炼铜制杆周度开工率从60.7%降至58.3%，再生铜制杆从18.9%降至17.38%，国内精炼铜社会库存周度增加0.73万吨至11.92万吨，',0],
    ['保税区库存下降0.6万吨至3.11万吨，铜价走高，企业高价备货意愿下降，经销刚需采购；本周铝材下游企业周度开工率由60.2%降至60.1%，其中原生铝合金、铝型材企业开工',0],
    ['率小幅回落，再生铝合金、铝线缆及铝板带开工率保持不变，电解铝库存周度下降2万吨至93.3万吨，下游低价补库意愿偏强。锌下游企业开工，镀锌由53.39%降至51.95%，',0],
    ['压铸由46.59%降至46.26%，氧化锌由50.58%降至49.75%，本周锌七地库存增加0.3万吨至27.17万吨。锌加工企业回落，但征国内需求减弱，出口订单也并无亮点，高价补库意愿',0],
    ['薄弱。',1],
    ['<b>能化：</b>复工将广提振，中国地炼开工率震荡上行。据金联创开工率计算公式显示，对全国地炼59家炼厂装置统计，截至8月5日，中国地炼常减压开工率为52.91%，较上周涨',0],
    ['1.20个百分点。本周PTA装置变动：逸盛大化375万吨、独山250万吨装置按计划落实检修，仪化300万吨、独山870万吨、嘉通600万吨装置降负，恒力惠州近期稍降，星周五',0],
    ['PTA开工负荷降至49.5%。近期中东局势反复，油价宽幅波动，PTA期货盘面跟随成本端震荡，短期来看，前期检修装置尚未重启，叠加台风影响部分PTA装置计划外降负，开',0],
    ['工降至历史低位，而由于前期聚酯工厂原料备货力度一般，供需矛盾凸显，PTA具有一定的韧性。月中附近PTA装置开工率预计陆续回升，供需格局或有所缓和，关注后期',0],
    ['装置恢复进度。',1],
    ['<b>农产品：</b>本周全国生猪出栏均价为10.3元/公斤，较上周价格下跌0.06元/公斤，环比下跌0.58%，同比下跌26.11%。整周猪价先涨后跌，价格中枢下移，综合来看，预计下周生',0],
    ['猪价格延续震荡走弱态势。本周，玉米淀粉行业开机率60.55%，环比+1.06%。山东玉米淀粉加工利润-175元/吨，环比-16元/吨。玉米淀粉市场行情延续弱势，前期检修企业',0],
    ['陆续复工，供应端增量明显，淀粉下游需求暂无增量表现，供强需弱的背景下，玉米淀粉市场价格难有起色。',1]];
  r2.forEach((l,i)=>jline(X,414.4+i*11.3,W,F,l[0],l[1]));
  footer(2,false);
}

// ================= section pages =================
function sectionPage(p,text){const t=PT(p);redLine(t+45);add(`<div class="sec" style="top:${t+136}px">${text}</div>`);footer(p,true);}
sectionPage(3,'1.投资');
sectionPage(16,'2.消费');

// single-row chart page frame
function single(p,off,ttl,capL,capR,srcL,srcR){
  const t=PT(p);
  if(Array.isArray(ttl)){ttl.forEach((s,i)=>title(p,off[i],s));} else title(p,off,ttl);
  redLine(t+45);
  [54,72,202,220].forEach(o=>{gline(t+o,17,257);gline(t+o,262,502);});
  cap(23,t+63,capL);cap(267,t+63,capR);
  src(23,t+211,srcL);src(267,t+211,srcR);
  footer(p,true);
}
function double(p,off,ttl,caps,srcText,lines,capY,srcY,rx){
  const t=PT(p);
  if(Array.isArray(ttl)){ttl.forEach((s,i)=>title(p,off[i],s));} else title(p,off,ttl);
  redLine(t+45);
  lines.forEach(o=>gline(t+o,17,502));
  cap(23,t+capY[0],caps[0]);cap(rx,t+capY[0],caps[1]);
  cap(23,t+capY[1],caps[2]);cap(rx,t+capY[1],caps[3]);
  src(23,t+srcY,srcText);
  footer(p,true);
}

// ================= PAGE 4 =================
single(4,34,'螺纹表需回落20.45万吨','图表：螺纹表需(横坐标为春节后第n周)（单位：万吨）','图表：螺纹厂库+社库(横坐标为春节后第n周)（单位：万吨）','资料来源：iFinD，mysteel，光大期货研究所','资料来源：iFinD，mysteel，光大期货研究所');
chart({x:20,y:PT(4)+74,w:234,h:124,n:19,ticks:wk19,ymin:-200,ymax:600,ystep:100,zero:true,
  series:[['2025',p4a_2025,cDR],['2024',p4a_2024,cBG],['2023',p4a_2023,cYG],['2022',p4a_2022,cPU],['2021',p4a_2021,cTE],['2026',p4a_2026,cOR]]});
chart({x:264,y:PT(4)+74,w:236,h:124,n:19,ticks:wk19,ymin:0,ymax:2000,ystep:500,
  series:[['2025',p4b_2025,cDR],['2024',p4b_2024,cBG],['2023',p4b_2023,'#CFD574'],['2022',p4b_2022,cPU],['2021',p4b_2021,cTE],['2026',p4b_2026,'#2E3A5C']]});

// ================= PAGE 5 =================
single(5,34,'热卷表需回落1.45万吨','图表：五大品种钢材周度表观消费量（单位：万吨）','图表：热轧板卷周度表观消费量（单位：万吨）','资料来源：iFinD，mysteel，光大期货研究所','资料来源：iFinD，mysteel，光大期货研究所');
chart({x:20,y:PT(5)+74,w:234,h:124,n:24,ticks:monthNum,every:2,ymin:200,ymax:1400,ystep:200,
  series:[['2020',p5a_2020,'#7046A0'],['2021',p5a_2021,'#F2A65A'],['2022',p5a_2022,'#8CC45A'],['2023',p5a_2023,'#C00000'],['2024',p5a_2024,'#5BA3D9'],['2025',p5a_2025,'#5DAA45'],['2026',p5a_2026,'#2F4F8F']]});
chart({x:264,y:PT(5)+74,w:236,h:124,n:27,ticks:wk27ticks,every:2,ymin:240,ymax:360,ystep:20,lp:14,
  series:[['2026',p5b_2026,'#8A8FA8'],['2025',p5b_2025,'#8A5A9A'],['2024',p5b_2024,'#F5B16A'],['2023',p5b_2023,'#1F2A44'],['2022',p5b_2022,'#3A2A3A']]});

// ================= PAGE 6 =================
single(6,31,'本周全国水泥磨机开工负荷均值33.86%，环比下降1.19个百分点','图表：全国水泥磨机运转率(横坐标为春节后第n周)（单位：%）','图表：水泥出库量（经农历调整）（单位：万吨）','资料来源：卓创资讯，光大期货研究所','资料来源：百年建筑网，光大期货研究所');
chart({x:20,y:PT(6)+74,w:234,h:124,n:19,ticks:wk19,ymin:0,ymax:80,ystep:10,
  series:[['2025',p6a_2025,cDR],['2024',p6a_2024,cBG],['2023',p6a_2023,cYG],['2022',p6a_2022,cPU],['2021',p6a_2021,cTE],['2026',p6a_2026,cOR]]});
chart({x:264,y:PT(6)+74,w:236,h:124,n:16,ticks:cement16,rot:50,ymin:0,ymax:1000,ystep:100,
  series:[['2023',p6b_2023,'#6E6E9E'],['2022',p6b_2022,'#4F7FB0'],['2024',p6b_2024,'#C8D46E'],['2025',p6b_2025,xR],['2026',p6b_2026,xT]]});
jline(45,PT(6)+233.2,438,7.3,'卓创资讯对62个主要城市的监测数据显示，与上周相比，本周全国水泥磨机开工负荷均值33.86%，环比下降1.19个百分点。水泥需求',0);
jline(31,PT(6)+242.5,400,7.3,'多数还是下降，高温和雨水天气，以及个别省份涨价，都对需求产生压力，磨机开工同步下降。',1);

// ================= PAGE 7 =================
double(7,31,'沥青出货量平稳',['图表：沥青开工率（单位：%）','图表：华东重交价格（单位：元/吨）','图表：沥青出货量（单位：万吨）','图表：沥青库存厂库+社库（单位：万吨）'],'资料来源：iFinD，光大期货研究所',[51,65,161,175,271],[58,168],279,254);
chart({x:20,y:PT(7)+66,w:236,h:93,n:18,ticks:dates18,rot:50,ymin:0,ymax:60,ystep:10,lp:10,
  series:[['2023年',p7a_2023,xR],['2024年',p7a_2024,xB],['2025年',p7a_2025,xP],['2026年',p7a_2026,xT]]});
chart({x:262,y:PT(7)+66,w:238,h:93,n:30,ticks:dates30,rot:90,ymin:2500,ymax:5500,ystep:500,lp:10,
  series:[['2023年',p7b_2023,xT],['2024年',p7b_2024,xR],['2025年',p7b_2025,xP],['2026年',p7b_2026,xB]]});
chart({x:20,y:PT(7)+176,w:236,h:94,n:24,ticks:dates24,rot:50,ymin:0,ymax:60,ystep:10,lp:30,
  series:[['2024年',p7c_2024,xR],['2025年',p7c_2025,xB],['2026年',p7c_2026,xP]]});
chart({x:262,y:PT(7)+176,w:238,h:94,n:24,ticks:dates24,rot:50,ymin:0,ymax:400,ystep:100,lp:10,
  series:[['2023年',p7d_2023,'#5F5A8A'],['2024年',p7d_2024,xT],['2025年',p7d_2025,'#5B8FBF'],['2026年',p7d_2026,xR]]});

// ================= PAGE 8 =================
single(8,32,'浮法平板玻璃产能回落','图表：浮法平板玻璃产能利用率（单位：%）','图表：浮法平板玻璃价格（单位：元/吨）','资料来源：iFinD，光大期货研究所','资料来源：iFinD，光大期货研究所');
chart({x:20,y:PT(8)+76,w:236,h:122,n:22,ticks:glass11,every:2,ymin:65,ymax:90,ystep:5,lp:10,
  series:[['2023年',p8a_2023,'#4F6F9F'],['2024年',p8a_2024,xG],['2025年',p8a_2025,'#7F72A0'],['2026年',p8a_2026,xR]]});
chart({x:264,y:PT(8)+76,w:236,h:124,n:30,ticks:dates30,rot:90,ymin:1000,ymax:2600,ystep:200,lp:10,
  series:[['2022年',p8b_2022,xT],['2023年',p8b_2023,'#F5A64A'],['2024年',p8b_2024,'#3F5F8F'],['2025年',p8b_2025,xR],['2026年',p8b_2026,'#B5CC6A']]});

// ================= PAGE 9 =================
double(9,32,'精炼铜制杆周度开工率从60.7%降至58.3%，再生铜制杆从18.9%降至17.38%',['图表：样本企业精炼铜制杆周度开工率（单位：%）','图表：样本企业再生铜制杆周度开工率','图表：国内铜社会库存（单位：万吨，不含保税区）','图表：国内保税区铜库存（单位：万吨）'],'资料来源：Wind，Mysteel，光大期货研究所',[51,65,162,175,272],[58,168],278,254);
const L5=['2022年','2023年','2024年','2025年','2026年'], L6=['2021年','2022年','2023年','2024年','2025年','2026年'];
const C5=[yDM,yLP,yOR,yGR,yRD], C6=[yDM,yLP,yOR,yYE,yGR,yRD];
const mk=(labs,cols,arrs)=>arrs.map((a,i)=>[labs[i],a,cols[i],labs[i]==='2026年'?1.8:0.9]);
const boxCommon={box:true,n:26,ticks:dates26,rot:90,tf:3.8,lf:3.9,lw:9,lp:6};
chart({...boxCommon,x:23,y:PT(9)+69,w:229,h:89,ymin:0,ymax:100,ystep:20,series:mk(L5,C5,[p9a_2022,p9a_2023,p9a_2024,p9a_2025,p9a_2026])});
chart({...boxCommon,x:258,y:PT(9)+69,w:237,h:89,ymin:0,ymax:70,ystep:10,series:mk(L5,C5,[p9b_2022,p9b_2023,p9b_2024,p9b_2025,p9b_2026])});
chart({...boxCommon,x:23,y:PT(9)+181,w:229,h:88,ymin:0,ymax:70,ystep:10,series:mk(L6,C6,[p9c_2021,p9c_2022,p9c_2023,p9c_2024,p9c_2025,p9c_2026])});
chart({...boxCommon,x:258,y:PT(9)+181,w:237,h:88,ymin:0,ymax:50,ystep:10,series:mk(L6,C6,[p9d_2021,p9d_2022,p9d_2023,p9d_2024,p9d_2025,p9d_2026])});

// ================= PAGE 10 =================
double(10,[25,39],['本周铝材下游企业周度开工率由60.2%降至60.1%，其中原生铝合金、铝型材企业开工率小幅回落，再','生铝合金、铝线缆及铝板带开工率保持不变'],['图表：铝加工行业周度开工率（单位：%）','图表：铝板带箔企业周度开工率（单位：%）','图表：铝型材企业周度开工率（单位：%）','图表：国内铝社会库存（单位：万吨）'],'资料来源：Wind，Mysteel，光大期货研究所',[51,65,162,175,272],[58,168],278,256);
chart({...boxCommon,x:23,y:PT(10)+65,w:229,h:94,ymin:0,ymax:90,ystep:10,series:mk(L6,C6,[p10a_2021,p10a_2022,p10a_2023,p10a_2024,p10a_2025,p10a_2026])});
chart({...boxCommon,x:258,y:PT(10)+65,w:237,h:94,ymin:0,ymax:100,ystep:20,series:mk(L6,C6,[p10b_2021,p10b_2022,p10b_2023,p10b_2024,p10b_2025,p10b_2026])});
chart({...boxCommon,x:23,y:PT(10)+177,w:229,h:91,ymin:0,ymax:100,ystep:20,series:mk(L6,C6,[p10c_2021,p10c_2022,p10c_2023,p10c_2024,p10c_2025,p10c_2026])});
chart({...boxCommon,x:262,y:PT(10)+177,w:233,h:91,ymin:0,ymax:160,ystep:20,series:mk(L6,C6,[p10d_2021,p10d_2022,p10d_2023,p10d_2024,p10d_2025,p10d_2026])});

// ================= PAGE 11 =================
double(11,32,'锌下游企业开工率：镀锌由53.39%降至51.95%，压铸由46.59%降至46.26%',['图表：镀锌结构件开工率（单位：%）','图表：压铸合金开工率（单位：%）','图表：氧化锌开工率（单位：%）','图表：国内锌社会库存（单位：万吨）'],'资料来源：Wind，Mysteel，光大期货研究所',[51,65,162,175,272],[58,168],279,253);
chart({...boxCommon,x:23,y:PT(11)+68,w:229,h:93,ymin:0,ymax:90,ystep:10,series:mk(L5,C5,[p11a_2022,p11a_2023,p11a_2024,p11a_2025,p11a_2026])});
chart({...boxCommon,x:258,y:PT(11)+68,w:237,h:93,ymin:0,ymax:80,ystep:10,series:mk(L5,C5,[p11b_2022,p11b_2023,p11b_2024,p11b_2025,p11b_2026])});
chart({...boxCommon,x:23,y:PT(11)+176,w:240,h:96,ymin:0,ymax:70,ystep:10,series:mk(L5,C5,[p11c_2022,p11c_2023,p11c_2024,p11c_2025,p11c_2026])});
chart({...boxCommon,x:265,y:PT(11)+176,w:230,h:96,ymin:0,ymax:35,ystep:5,series:mk(L6,C6,[p11d_2021,p11d_2022,p11d_2023,p11d_2024,p11d_2025,p11d_2026])});

// ================= PAGE 12 =================
single(12,31,'7月30大中城市商品房销售面积657万平，同比上升3%，环比下降24%','图表：30城商品房成交面积（单位：万平方米）','图表：主要城市二手房住宅成交（单位：万平方米）','资料来源：iFinD，光大期货研究所','资料来源：iFinD，光大期货研究所');
chart({x:20,y:PT(12)+76,w:234,h:124,n:36,ticks:dates18,every:2,rot:50,ymin:0,ymax:600,ystep:100,lp:10,
  series:[['2022年',p12a_2022,xG],['2023年',p12a_2023,xB],['2024年',p12a_2024,xT],['2025年',p12a_2025,xP],['2026年',p12a_2026,xR]]});
chart({x:264,y:PT(12)+74,w:236,h:126,n:48,ticks:house15,every:3,rot:50,ymin:0,ymax:70,ystep:10,lp:30,
  series:[['深圳',p12b_sz,'#4F77A8'],['北京',p12b_bj,xG],['成都',p12b_cd,'#6F6790'],['苏州',p12b_su,xT]]});

// ================= PAGE 13 =================
single(13,29,'2026年7月销售各类挖掘机19521台，同比增长13.9%','图表：主要企业液压挖掘机内销销量（单位：辆）','图表：主要企业液压挖掘机销量同比（单位：%）','资料来源：iFinD，光大期货研究所','资料来源：iFinD，光大期货研究所');
chart({type:'bar',x:20,y:PT(13)+78,w:234,h:120,n:12,ticks:excMonths,ymin:0,ymax:30000,ystep:5000,lp:18,
  series:[['2022年',p13a_2022,xR],['2023年',p13a_2023,'#4F6FA8'],['2024年',p13a_2024,xG],['2025年',p13a_2025,'#6E5E8E'],['2026年',p13a_2026,xT]]});
chart({x:264,y:PT(13)+78,w:236,h:122,n:49,ticks:yoy13,every:4,rot:50,ymin:-80,ymax:120,ystep:20,zero:true,lw:14,
  series:[['销量:液压挖掘机:主要企业:总计:当月同比',p13b_total,'#A0202F',1.2],['销量:液压挖掘机:主要企业:国内(内销):当月同比',p13b_dom,'#5A8AB0',1.1]]});
jline(23,PT(13)+227.7,474,6.8,'据中国工程机械工业协会对挖掘机主要制造企业统计，2026年7月销售各类挖掘机19521台，同比增长13.9%。其中：国内销量7608台（含电动挖',0);
jline(23,PT(13)+237,474,6.8,'掘机41台），同比增长4.13%；出口11913台（含电动挖掘机62台），同比增长21.2%。',1);

// ================= PAGE 14 =================
single(14,32,'美国粗钢产量平稳','图表：美国经济活动指数（单位：点）','图表：美国粗钢产量（单位：万短吨）','资料来源：iFinD，光大期货研究所','资料来源：iFinD，光大期货研究所');
chart({x:20,y:PT(14)+78,w:234,h:122,n:60,ticks:eai15,every:4,rot:90,ymin:0,ymax:4,ystep:0.5,yfmt:v=>String(Math.round(v)),lw:14,
  series:[['美国:经济活动指数',p14a_eai,'#C00000',1.1]]});
chart({x:264,y:PT(14)+76,w:236,h:124,n:40,ticks:steel20,every:2,rot:50,ymin:0,ymax:7,ystep:1,lp:14,
  series:[['2022年',p14b_2022,'#F5B36A'],['2023年',p14b_2023,'#3F6F9F'],['2024年',p14b_2024,'#C5D88A'],['2025年',p14b_2025,'#7F7F9F'],['2026年',p14b_2026,xT]]});

// ================= PAGE 15 =================
double(15,33,'美国原油和成品油产量引申需求量',['图表：美国原油产量引申需求（单位：万桶/日）','图表：美国馏分油产量引申需求（单位：万桶/日）','图表：美国汽油产量引申需求（单位：万桶/日）','图表：美国航空煤油供应量（单位：万桶/日）'],'资料来源：Wind，光大期货研究所',[52,66,166,180,275],[59,173],282,266);
const oilSeries=(a,b,c,d,e,f)=>[['2021年',a,gA],['2022年',b,gB],['2023年',c,gC],['2024年',d,gD],['2025年',e,gE],['2026年',f,gRed,1.3]];
const oilCommon={n:46,ticks:oil10,every:5,tf:4,lf:4,lw:11,lp:9};
chart({...oilCommon,x:24,y:PT(15)+69,w:230,h:94,ymin:1000,ymax:2400,ystep:200,series:oilSeries(p15a_2021,p15a_2022,p15a_2023,p15a_2024,p15a_2025,p15a_2026)});
chart({...oilCommon,x:264,y:PT(15)+69,w:236,h:94,ymin:300,ymax:650,ystep:50,series:oilSeries(p15b_2021,p15b_2022,p15b_2023,p15b_2024,p15b_2025,p15b_2026)});
chart({...oilCommon,x:24,y:PT(15)+181,w:230,h:93,ymin:600,ymax:1200,ystep:100,series:oilSeries(p15c_2021,p15c_2022,p15c_2023,p15c_2024,p15c_2025,p15c_2026)});
chart({...oilCommon,x:264,y:PT(15)+181,w:236,h:93,ymin:0,ymax:2500,ystep:500,series:oilSeries(p15d_2021,p15d_2022,p15d_2023,p15d_2024,p15d_2025,p15d_2026)});

// remaining footers for chart pages handled by single()/double(); page 3 & 16 by sectionPage
</script>
</body></html>
